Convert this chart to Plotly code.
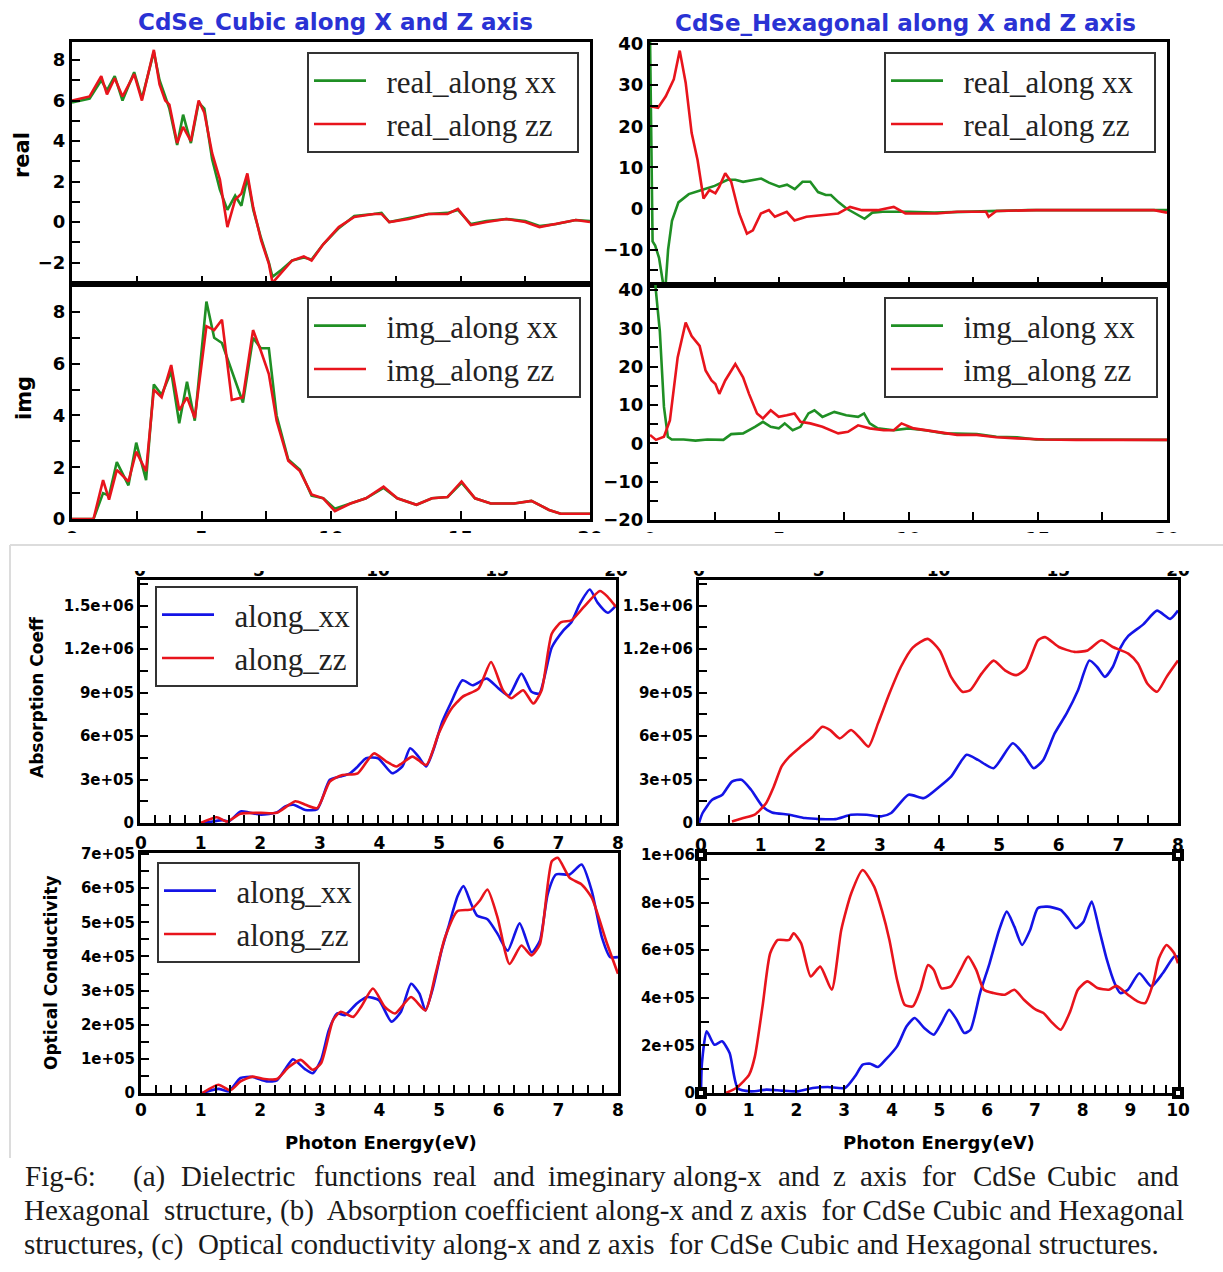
import plotly.graph_objects as go

W, H = 1223, 1272
def px(x):
    return x / W
def py(y):
    return 1 - y / H

# ---------------- DATA ----------------
# (a) Cubic, real part (E in eV)
cub_real_E = [0, 0.68, 1.13, 1.35, 1.65, 1.95, 2.4, 2.7, 3.16, 3.38, 3.6, 3.76, 4.06, 4.29, 4.59, 4.89, 5.11, 5.41,
              5.71, 6.0, 6.3, 6.54, 6.77, 7.0, 7.3, 7.6, 7.74, 8.05, 8.5, 8.95, 9.25, 9.7, 10.3, 10.9, 11.65, 11.95,
              12.25, 13.0, 13.76, 14.5, 14.9, 15.4, 16.0, 16.77, 17.5, 18.05, 18.7, 19.45, 20]
cub_real_xx = [5.9, 6.1, 7.0, 6.5, 7.2, 6.0, 7.4, 6.1, 8.4, 7.0, 6.2, 5.6, 3.8, 5.3, 3.9, 5.9, 5.6, 3.1, 1.6, 0.6,
               1.3, 0.8, 2.2, 0.6, -0.8, -2.0, -2.7, -2.4, -1.9, -1.75, -1.85, -1.1, -0.3, 0.3, 0.4, 0.45, 0.0, 0.2,
               0.4, 0.45, 0.6, -0.1, 0.05, 0.15, 0.05, -0.2, -0.1, 0.1, 0.05]
cub_real_zz = [6.0, 6.2, 7.2, 6.3, 7.1, 6.2, 7.3, 6.0, 8.5, 6.8, 6.0, 5.8, 3.9, 4.7, 4.0, 6.0, 5.4, 3.4, 2.1, -0.25,
               1.1, 1.4, 2.4, 0.7, -0.9, -2.05, -3.0, -2.55, -1.9, -1.7, -1.9, -1.1, -0.25, 0.25, 0.4, 0.4, 0.0,
               0.15, 0.4, 0.4, 0.65, -0.15, 0.0, 0.15, 0.0, -0.25, -0.1, 0.1, 0.0]

# (a) Cubic, imaginary part
cub_img_E = [0, 0.83, 1.2, 1.43, 1.73, 2.18, 2.48, 2.86, 3.16, 3.46, 3.83, 4.14, 4.44, 4.74, 5.19, 5.49, 5.79, 6.17,
             6.6, 6.99, 7.29, 7.6, 7.9, 8.35, 8.8, 9.25, 9.7, 10.15, 10.75, 11.35, 12.03, 12.56, 13.3, 13.9, 14.5,
             15.04, 15.56, 16.17, 17.07, 17.74, 18.42, 18.87, 20]
cub_img_xx = [0, 0, 1.0, 0.9, 2.2, 1.3, 2.95, 1.5, 5.2, 4.8, 5.7, 3.7, 5.3, 3.8, 8.4, 7.0, 6.8, 5.7, 4.5, 7.0, 6.6,
              6.6, 4.0, 2.3, 1.9, 0.9, 0.8, 0.4, 0.6, 0.8, 1.2, 0.8, 0.55, 0.8, 0.85, 1.4, 0.8, 0.6, 0.6, 0.7, 0.35,
              0.2, 0.2]
cub_img_zz = [0, 0, 1.5, 0.75, 1.9, 1.45, 2.6, 1.85, 5.0, 4.7, 5.95, 4.2, 4.7, 3.9, 7.45, 7.3, 7.7, 4.6, 4.7, 7.3,
              6.5, 5.6, 3.8, 2.25, 1.85, 0.95, 0.8, 0.3, 0.6, 0.8, 1.25, 0.8, 0.55, 0.8, 0.85, 1.45, 0.8, 0.6, 0.6,
              0.7, 0.35, 0.2, 0.2]

# (a) Hexagonal, real part
hex_real_E_xx = [0, 0.05, 0.1, 0.2, 0.35, 0.5, 0.6, 0.7, 0.85, 1.1, 1.5, 2.0, 2.5, 3.0, 3.3, 3.6, 4.0, 4.3, 4.6, 5.0,
                 5.3, 5.6, 5.9, 6.2, 6.5, 6.8, 7.0, 7.3, 7.6, 8.0, 8.3, 8.6, 9.0, 9.4, 10.0, 11.0, 12.0, 13.0, 14.0,
                 14.6, 20]
hex_real_xx = [42, 10, -8, -9, -12, -18, -19, -10, -3, 1.5, 3.5, 4.5, 5.5, 7.0, 7.0, 6.5, 7.0, 7.3, 6.3, 5.3, 5.8,
               4.7, 6.5, 6.5, 4.0, 3.3, 3.3, 1.5, 0.0, -1.5, -2.5, -1.0, -0.8, -0.8, -0.8, -1.0, -0.8, -0.6, -0.4,
               -0.4, -0.4]
hex_real_E_zz = [0, 0.31, 0.61, 0.92, 1.15, 1.38, 1.61, 1.84, 2.07, 2.3, 2.53, 2.68, 2.91, 3.14, 3.45, 3.75, 3.98,
                 4.29, 4.6, 4.83, 5.29, 5.59, 6.05, 6.67, 7.28, 7.74, 8.2, 8.81, 9.43, 9.88, 10.34, 11.1, 11.88, 13.0,
                 13.1, 13.4, 14.94, 16.5, 18.0, 19.5, 20]
hex_real_zz = [24.9, 24.5, 27.3, 31.4, 38.4, 30.6, 18.4, 11.8, 2.45, 4.5, 3.7, 5.3, 8.6, 6.5, -1.2, -6.1, -5.3, -1.2,
               -0.4, -2.0, -0.8, -2.9, -2.0, -1.6, -1.2, 0.4, -0.4, -0.4, 0.4, -1.2, -1.2, -1.2, -0.8, -0.8, -2.0,
               -0.6, -0.4, -0.4, -0.4, -0.4, -1.0]

# (a) Hexagonal, imaginary part
hex_img_E_xx = [0, 0.23, 0.38, 0.54, 0.69, 0.84, 1.3, 1.76, 2.22, 2.84, 3.14, 3.6, 4.06, 4.37, 4.67, 4.98, 5.21,
                5.52, 5.82, 6.13, 6.36, 6.67, 7.13, 7.59, 8.05, 8.28, 8.5, 8.81, 9.43, 10.0, 10.65, 11.4, 12.64, 13.4,
                14.2, 14.94, 16.3, 20]
hex_img_xx = [60, 39.6, 29.3, 9.5, 1.7, 1.0, 1.0, 0.7, 1.0, 0.9, 2.4, 2.6, 4.3, 5.6, 4.3, 3.9, 5.2, 3.4, 4.3, 7.8,
              8.6, 6.9, 8.2, 7.3, 6.9, 7.8, 5.2, 3.9, 3.4, 3.9, 3.4, 2.6, 2.4, 1.7, 1.6, 1.0, 1.0, 0.9]
hex_img_E_zz = [0, 0.23, 0.54, 0.77, 1.07, 1.38, 1.61, 1.92, 2.15, 2.38, 2.53, 2.68, 2.91, 3.3, 3.6, 3.83, 4.14,
                4.37, 4.67, 4.98, 5.29, 5.59, 5.82, 6.2, 6.67, 7.28, 7.66, 8.05, 8.5, 9.04, 9.43, 9.73, 10.2, 10.65,
                11.1, 11.88, 12.64, 13.4, 14.2, 15.25, 16.5, 18, 20]
hex_img_zz = [2.2, 0.9, 1.7, 6.0, 22.4, 31.5, 28.0, 25.4, 19.0, 16.4, 15.5, 12.9, 16.4, 20.7, 17.2, 12.9, 7.8, 6.5,
              8.6, 6.9, 7.3, 7.8, 5.6, 5.2, 4.3, 2.6, 3.0, 4.7, 3.9, 3.4, 3.4, 5.2, 3.9, 3.4, 3.0, 2.2, 2.2, 1.6,
              1.3, 1.0, 0.9, 0.9, 0.9]

# (b) Absorption coefficient, Cubic
abs_cub_E_xx = [1.05, 1.22, 1.39, 1.49, 1.69, 1.83, 2.03, 2.3, 2.44, 2.58, 2.78, 2.98, 3.19, 3.36, 3.53, 3.66, 3.8,
                4.0, 4.24, 4.41, 4.54, 4.68, 4.81, 4.95, 5.08, 5.22, 5.42, 5.59, 5.83, 6.03, 6.2, 6.41, 6.58, 6.71,
                6.92, 7.12, 7.25, 7.39, 7.56, 7.69, 7.86, 8.0]
abs_cub_xx = [0, 0.1e5, 0.2e5, 0.1e5, 0.8e5, 0.73e5, 0.57e5, 0.73e5, 1.15e5, 1.26e5, 0.9e5, 0.96e5, 2.98e5, 3.2e5,
              3.43e5, 3.9e5, 4.47e5, 4.47e5, 3.43e5, 3.9e5, 5.15e5, 4.58e5, 3.9e5, 5.27e5, 6.98e5, 8.24e5, 9.85e5,
              9.5e5, 9.96e5, 9.27e5, 8.8e5, 10.3e5, 9.05e5, 8.93e5, 12.1e5, 13.3e5, 13.85e5, 15.1e5, 16.1e5,
              15.2e5, 14.5e5, 15.0e5]
abs_cub_E_zz = [1.02, 1.29, 1.46, 1.69, 2.03, 2.3, 2.61, 2.78, 2.98, 3.19, 3.39, 3.66, 3.93, 4.14, 4.31, 4.58, 4.81,
                5.02, 5.22, 5.42, 5.69, 5.9, 6.1, 6.24, 6.44, 6.61, 6.75, 6.92, 7.08, 7.25, 7.46, 7.73, 7.86, 8.0]
abs_cub_zz = [0, 0.4e5, 0.1e5, 0.64e5, 0.7e5, 0.7e5, 1.5e5, 1.26e5, 1.03e5, 2.86e5, 3.3e5, 3.43e5, 4.8e5, 4.24e5,
              3.9e5, 4.58e5, 4.0e5, 6.18e5, 7.8e5, 8.7e5, 9.27e5, 11.1e5, 9.16e5, 8.6e5, 9.16e5, 8.24e5, 9.16e5,
              13.05e5, 13.85e5, 13.97e5, 14.9e5, 16.0e5, 15.6e5, 14.9e5]

# (b) Absorption coefficient, Hexagonal
abs_hex_E_xx = [0, 0.06, 0.22, 0.39, 0.55, 0.71, 0.87, 1.06, 1.22, 1.51, 1.77, 2.02, 2.28, 2.54, 2.8, 3.05, 3.21,
                3.5, 3.76, 4.02, 4.21, 4.47, 4.66, 4.92, 5.24, 5.43, 5.59, 5.75, 5.94, 6.14, 6.33, 6.52, 6.65, 6.78,
                6.91, 7.04, 7.17, 7.42, 7.65, 7.87, 8.0]
abs_hex_xx = [0, 0.69e5, 1.6e5, 1.95e5, 2.86e5, 2.98e5, 2.29e5, 1.15e5, 0.73e5, 0.57e5, 0.34e5, 0.27e5, 0.27e5,
              0.57e5, 0.57e5, 0.46e5, 0.69e5, 1.95e5, 1.72e5, 2.52e5, 3.2e5, 4.7e5, 4.35e5, 3.78e5, 5.5e5, 4.7e5,
              3.78e5, 4.35e5, 6.18e5, 7.56e5, 9.16e5, 11.2e5, 10.76e5, 10.08e5, 10.76e5, 12.1e5, 12.9e5, 13.7e5,
              14.65e5, 14.08e5, 14.65e5]
abs_hex_E_zz = [0.55, 0.74, 0.93, 1.12, 1.25, 1.38, 1.51, 1.7, 1.9, 2.06, 2.19, 2.35, 2.54, 2.67, 2.83, 2.99, 3.18,
                3.37, 3.57, 3.82, 4.02, 4.21, 4.4, 4.53, 4.72, 4.92, 5.11, 5.3, 5.46, 5.66, 5.78, 6.01, 6.27, 6.49,
                6.72, 6.91, 7.17, 7.33, 7.49, 7.65, 7.81, 8.0]
abs_hex_zz = [0.1e5, 0.34e5, 0.57e5, 1.37e5, 2.52e5, 3.9e5, 4.58e5, 5.27e5, 5.95e5, 6.64e5, 6.41e5, 5.84e5, 6.41e5,
              5.95e5, 5.27e5, 6.87e5, 8.93e5, 10.76e5, 12.1e5, 12.7e5, 11.9e5, 10.08e5, 9.05e5, 9.16e5, 10.3e5,
              11.2e5, 10.53e5, 10.2e5, 10.65e5, 12.6e5, 12.82e5, 12.14e5, 11.8e5, 11.9e5, 12.6e5, 12.14e5, 11.68e5,
              11.0e5, 9.6e5, 9.05e5, 10.08e5, 11.2e5]

# (c) Optical conductivity, Cubic
opt_cub_E_xx = [1.03, 1.3, 1.47, 1.67, 1.87, 2.11, 2.28, 2.41, 2.55, 2.75, 2.88, 3.02, 3.15, 3.29, 3.42, 3.62, 3.79,
                3.99, 4.2, 4.36, 4.53, 4.67, 4.77, 4.9, 5.04, 5.17, 5.31, 5.41, 5.54, 5.64, 5.81, 5.98, 6.15, 6.35,
                6.55, 6.69, 6.82, 6.96, 7.19, 7.39, 7.56, 7.73, 7.87, 8.0]
opt_cub_xx = [0, 0.12e5, 0.05e5, 0.44e5, 0.47e5, 0.34e5, 0.37e5, 0.68e5, 0.99e5, 0.7e5, 0.58e5, 0.97e5, 1.84e5,
              2.33e5, 2.28e5, 2.62e5, 2.81e5, 2.72e5, 2.09e5, 2.38e5, 3.2e5, 2.91e5, 2.42e5, 3.1e5, 4.17e5, 4.95e5,
              5.77e5, 6.06e5, 5.53e5, 5.19e5, 5.09e5, 4.66e5, 4.17e5, 4.97e5, 4.12e5, 4.46e5, 5.82e5, 6.4e5, 6.4e5,
              6.69e5, 5.92e5, 4.56e5, 3.98e5, 3.98e5]
opt_cub_E_zz = [1.03, 1.3, 1.5, 1.67, 1.87, 2.07, 2.28, 2.48, 2.68, 2.88, 3.02, 3.22, 3.35, 3.56, 3.69, 3.89, 4.09,
                4.26, 4.53, 4.77, 4.94, 5.1, 5.31, 5.54, 5.68, 5.81, 5.98, 6.18, 6.38, 6.55, 6.69, 6.89, 6.99, 7.19,
                7.39, 7.56, 7.8, 8.0]
opt_cub_zz = [0, 0.24e5, 0.08e5, 0.34e5, 0.48e5, 0.41e5, 0.41e5, 0.76e5, 0.97e5, 0.68e5, 0.87e5, 2.13e5, 2.38e5,
              2.23e5, 2.52e5, 3.06e5, 2.52e5, 2.33e5, 2.81e5, 2.42e5, 3.49e5, 4.56e5, 5.33e5, 5.38e5, 5.63e5,
              5.96e5, 5.14e5, 3.78e5, 4.32e5, 4.03e5, 4.36e5, 6.79e5, 6.89e5, 6.3e5, 6.11e5, 5.72e5, 4.46e5, 3.49e5]

# (c) Optical conductivity, Hexagonal
opt_hex_E_xx = [0, 0.02, 0.12, 0.28, 0.44, 0.6, 0.77, 1.05, 1.37, 1.69, 2.02, 2.34, 2.66, 3.02, 3.23, 3.39, 3.55,
                3.71, 3.87, 4.11, 4.31, 4.48, 4.68, 4.88, 5.04, 5.2, 5.36, 5.52, 5.65, 5.85, 6.05, 6.25, 6.41, 6.57,
                6.73, 6.9, 7.06, 7.26, 7.54, 7.7, 7.86, 8.02, 8.19, 8.35, 8.51, 8.67, 8.79, 8.95, 9.19, 9.44, 9.68,
                9.92, 10]
opt_hex_xx = [0, 1.26e5, 2.59e5, 2.03e5, 2.17e5, 1.68e5, 0.2e5, 0.07e5, 0.14e5, 0.1e5, 0.07e5, 0.21e5, 0.25e5,
              0.21e5, 0.7e5, 1.19e5, 1.23e5, 1.09e5, 1.4e5, 1.96e5, 2.8e5, 3.15e5, 2.73e5, 2.45e5, 2.94e5, 3.5e5,
              3.08e5, 2.52e5, 2.66e5, 4.2e5, 5.45e5, 6.85e5, 7.62e5, 6.99e5, 6.22e5, 6.85e5, 7.76e5, 7.83e5,
              7.69e5, 7.34e5, 6.92e5, 7.2e5, 8.04e5, 6.85e5, 5.59e5, 4.62e5, 4.2e5, 4.34e5, 5.03e5, 4.48e5, 5.03e5,
              5.73e5, 5.73e5]
opt_hex_E_zz = [0.52, 0.73, 0.89, 1.01, 1.13, 1.29, 1.45, 1.61, 1.85, 1.94, 2.1, 2.3, 2.5, 2.74, 2.94, 3.15, 3.39,
                3.63, 3.79, 3.95, 4.11, 4.27, 4.44, 4.6, 4.76, 4.88, 5.04, 5.24, 5.44, 5.6, 5.77, 5.93, 6.13, 6.37,
                6.57, 6.77, 7.02, 7.18, 7.34, 7.54, 7.74, 7.9, 8.1, 8.31, 8.55, 8.71, 8.95, 9.15, 9.31, 9.48, 9.6,
                9.76, 9.92, 10]
opt_hex_zz = [0, 0.2e5, 0.49e5, 0.77e5, 1.54e5, 3.64e5, 5.87e5, 6.43e5, 6.43e5, 6.71e5, 6.29e5, 4.9e5, 5.31e5,
              4.34e5, 6.85e5, 8.39e5, 9.37e5, 8.67e5, 7.69e5, 6.43e5, 4.76e5, 3.71e5, 3.64e5, 4.34e5, 5.38e5,
              5.17e5, 4.4e5, 4.48e5, 5.17e5, 5.73e5, 5.17e5, 4.34e5, 4.2e5, 4.13e5, 4.34e5, 3.92e5, 3.5e5, 3.36e5,
              3.0e5, 2.66e5, 3.43e5, 4.34e5, 4.69e5, 4.41e5, 4.34e5, 4.5e5, 4.13e5, 3.85e5, 3.78e5, 4.62e5,
              5.66e5, 6.22e5, 5.87e5, 5.45e5]

# tick labels
abs_tickvals = [0, 3e5, 6e5, 9e5, 1.2e6, 1.5e6]
abs_ticktext = ['0', '3e+05', '6e+05', '9e+05', '1.2e+06', '1.5e+06']
optc_tickvals = [0, 1e5, 2e5, 3e5, 4e5, 5e5, 6e5, 7e5]
optc_ticktext = ['0', '1e+05', '2e+05', '3e+05', '4e+05', '5e+05', '6e+05', '7e+05']
opth_tickvals = [0, 2e5, 4e5, 6e5, 8e5, 1e6]
opth_ticktext = ['0', '2e+05', '4e+05', '6e+05', '8e+05', '1e+06']

titles = ['CdSe_Cubic along X and Z axis', 'CdSe_Hexagonal along X and Z axis']
caption_line1 = ['Fig-6:', '(a)', 'Dielectric', 'functions', 'real', 'and', 'imeginary', 'along-x', 'and', 'z',
                 'axis', 'for', 'CdSe', 'Cubic', 'and']
caption_line2 = 'Hexagonal\u00a0 structure, (b)\u00a0 Absorption coefficient along-x and z axis\u00a0 for CdSe Cubic and Hexagonal'
caption_line3 = 'structures, (c)\u00a0 Optical conductivity along-x and z axis\u00a0 for CdSe Cubic and Hexagonal structures.'

# ---------------- FIGURE ----------------
GREEN = '#1f8f24'
RED = '#e8141c'
BLUE = '#1414e6'
LW = 2.6

fig = go.Figure()

def add(xs, ys, n, color, name, legend=None, shape='linear'):
    fig.add_trace(go.Scatter(
        x=xs, y=ys, mode='lines', name=name,
        line=dict(color=color, width=LW, shape=shape, smoothing=0.6),
        xaxis='x' if n == 1 else 'x%d' % n, yaxis='y' if n == 1 else 'y%d' % n,
        legend=legend if legend else 'legend', showlegend=legend is not None,
        hoverinfo='x+y+name'))

PRE = '\u00a0\u00a0'
PAD = '\u00a0\u00a0'
add(cub_real_E, cub_real_xx, 1, GREEN, PRE + 'real_along xx' + PAD, 'legend')
add(cub_real_E, cub_real_zz, 1, RED, PRE + 'real_along zz' + PAD, 'legend')
add(cub_img_E, cub_img_xx, 2, GREEN, PRE + 'img_along xx' + PAD, 'legend2')
add(cub_img_E, cub_img_zz, 2, RED, PRE + 'img_along zz' + PAD, 'legend2')
add(hex_real_E_xx, hex_real_xx, 3, GREEN, PRE + 'real_along xx' + PAD, 'legend3')
add(hex_real_E_zz, hex_real_zz, 3, RED, PRE + 'real_along zz' + PAD, 'legend3')
add(hex_img_E_xx, hex_img_xx, 4, GREEN, PRE + 'img_along xx' + PAD, 'legend4')
add(hex_img_E_zz, hex_img_zz, 4, RED, PRE + 'img_along zz' + PAD, 'legend4')
add(abs_cub_E_xx, abs_cub_xx, 5, BLUE, PRE + 'along_xx', 'legend5', 'spline')
add(abs_cub_E_zz, abs_cub_zz, 5, RED, PRE + 'along_zz', 'legend5', 'spline')
add(abs_hex_E_xx, abs_hex_xx, 6, BLUE, 'along_xx', None, 'spline')
add(abs_hex_E_zz, abs_hex_zz, 6, RED, 'along_zz', None, 'spline')
add(opt_cub_E_xx, opt_cub_xx, 7, BLUE, PRE + 'along_xx', 'legend6', 'spline')
add(opt_cub_E_zz, opt_cub_zz, 7, RED, PRE + 'along_zz', 'legend6', 'spline')
add(opt_hex_E_xx, opt_hex_xx, 8, BLUE, 'along_xx', None, 'spline')
add(opt_hex_E_zz, opt_hex_zz, 8, RED, 'along_zz', None, 'spline')

# empty carriers so that the secondary (top) energy axes are drawn
for xa, ya in (('x9', 'y5'), ('x10', 'y6'), ('x11', 'y7'), ('x12', 'y8')):
    fig.add_trace(go.Scatter(x=[], y=[], mode='lines', xaxis=xa, yaxis=ya, showlegend=False, hoverinfo='skip'))

FONT_BIG = dict(family='DejaVu Sans', size=18, color='black', weight='bold')
FONT_SM = dict(family='DejaVu Sans', size=15, color='black', weight='bold')

def minor(d):
    return dict(dtick=d, tick0=0, ticks='inside', ticklen=8, tickwidth=2, tickcolor='black', showgrid=False)

def base_axis(domain, rng, anchor, font):
    return dict(domain=domain, range=rng, anchor=anchor, showline=True, linewidth=3, linecolor='black',
                mirror=True, ticks='inside', ticklen=8, tickwidth=2, tickcolor='black', showgrid=False,
                zeroline=False, tickfont=font, fixedrange=True, automargin=False)

layout_axes = {}
# panel boxes (pixel)
boxes = {
    1: (72, 590, 42, 284), 2: (72, 590, 284, 519),
    3: (650, 1167, 42, 285), 4: (650, 1167, 285, 520),
    5: (140, 616, 580, 823), 6: (699, 1178, 580, 823),
    7: (141, 618, 853, 1093), 8: (701, 1178, 855, 1093),
}
def xdom(n):
    b = boxes[n]
    return [px(b[0]), px(b[1])]
def ydom(n):
    b = boxes[n]
    return [py(b[3]), py(b[2])]

def key(prefix, n):
    return prefix + 'axis' + ('' if n == 1 else str(n))

# x axes
for n in (1, 2, 3, 4):
    a = base_axis(xdom(n), [0, 20], 'y' if n == 1 else 'y%d' % n, FONT_BIG)
    a.update(tickmode='linear', tick0=0, dtick=5, minor=minor(2.5), showticklabels=n in (2, 4))
    layout_axes[key('x', n)] = a
for n, rng, md in ((5, [0, 8], 0.25), (6, [0, 8], 0.5), (7, [0, 8], 0.25), (8, [0, 10], 0.25)):
    a = base_axis(xdom(n), rng, 'y%d' % n, FONT_SM)
    a.update(tickmode='linear', tick0=0, dtick=1, minor=minor(md), showticklabels=n in (7, 8))
    if n in (7, 8):
        a['tickfont'] = dict(family='DejaVu Sans', size=17, color='black', weight='bold')
    layout_axes[key('x', n)] = a

# top (secondary) x axes of lower panels
for n, base, rng, dt in ((9, 5, [0, 20], 5), (10, 6, [0, 20], 5), (11, 7, [0, 8], 1), (12, 8, [0, 8], 1)):
    layout_axes[key('x', n)] = dict(overlaying='x%d' % base, anchor='y%d' % base, side='top', range=rng,
                                    tickmode='linear', tick0=0, dtick=dt, ticks='', showline=False,
                                    showgrid=False, zeroline=False, fixedrange=True, automargin=False,
                                    tickfont=dict(family='DejaVu Sans', size=17, color='black', weight='bold'))

# y axes
ycfg = {
    1: dict(range=[-3.06, 8.89], tickmode='linear', tick0=0, dtick=2, minor=minor(1)),
    2: dict(range=[0, 9.08], tickmode='linear', tick0=0, dtick=2, minor=minor(1)),
    3: dict(range=[-18.6, 40.5], tickmode='linear', tick0=0, dtick=10, minor=minor(5)),
    4: dict(range=[-20, 41.3], tickmode='linear', tick0=0, dtick=10, minor=minor(5)),
    5: dict(range=[0, 1.676e6], tickmode='array', tickvals=abs_tickvals, ticktext=abs_ticktext, minor=minor(1.5e5)),
    6: dict(range=[0, 1.676e6], tickmode='array', tickvals=abs_tickvals, ticktext=abs_ticktext, minor=minor(1.5e5)),
    7: dict(range=[0, 7.03e5], tickmode='array', tickvals=optc_tickvals, ticktext=optc_ticktext, minor=minor(0.5e5)),
    8: dict(range=[0, 1.0e6], tickmode='array', tickvals=opth_tickvals, ticktext=opth_ticktext, minor=minor(1e5)),
}
for n in range(1, 9):
    a = base_axis(ydom(n), None, 'x' if n == 1 else 'x%d' % n, FONT_BIG if n <= 4 else FONT_SM)
    a.update(ycfg[n])
    layout_axes[key('y', n)] = a

fig.update_layout(**layout_axes)

# legends
LEG_FONT = dict(family='Liberation Serif', size=31, color='#222222')
def leg(x, y):
    return dict(x=px(x), y=py(y), xanchor='left', yanchor='top', bgcolor='white', bordercolor='#333333',
                borderwidth=2, font=LEG_FONT, itemwidth=52, tracegroupgap=0)
fig.update_layout(
    legend=leg(307, 52), legend2=leg(307, 297), legend3=leg(884, 52), legend4=leg(884, 297),
    legend5=leg(155, 586), legend6=leg(157, 862),
)

ann = []
def A(**kw):
    d = dict(xref='paper', yref='paper', showarrow=False, xanchor='center', yanchor='middle')
    d.update(kw)
    ann.append(d)

TITLE_FONT = dict(family='DejaVu Sans', size=23, color='#2a32d4', weight='bold')
A(text=titles[0], x=px(336), y=py(22), font=TITLE_FONT)
A(text=titles[1], x=px(905), y=py(23), font=TITLE_FONT)
AX_FONT = dict(family='DejaVu Sans', size=21, color='black', weight='bold')
A(text='real', x=px(22), y=py(155), textangle=-90, font=AX_FONT)
A(text='img', x=px(24), y=py(398), textangle=-90, font=AX_FONT)
AX2_FONT = dict(family='DejaVu Sans', size=17, color='black', weight='bold')
A(text='Absorption Coeff', x=px(37), y=py(698), textangle=-90, font=AX2_FONT)
A(text='Optical Conductivity', x=px(51), y=py(972), textangle=-90, font=AX2_FONT)
XT_FONT = dict(family='DejaVu Sans', size=18, color='black', weight='bold')
A(text='Photon Energy(eV)', x=px(381), y=py(1142), font=XT_FONT)
A(text='Photon Energy(eV)', x=px(939), y=py(1142), font=XT_FONT)

CAP_FONT = dict(family='Liberation Serif', size=29, color='#1a1a1a')
cap1_x = [23, 131, 179, 312, 431, 491, 546, 671, 776, 831, 858, 920, 971, 1045, 1135]
for wtxt, wx in zip(caption_line1, cap1_x):
    A(text=wtxt, x=px(wx), y=py(1176), xanchor='left', font=CAP_FONT)
A(text=caption_line2, x=px(22), y=py(1210), xanchor='left', font=CAP_FONT)
A(text=caption_line3, x=px(22), y=py(1244), xanchor='left', font=CAP_FONT)

shapes = []
# white band hiding the clipped tick labels between the two image halves
shapes.append(dict(type='rect', xref='paper', yref='paper', x0=0, x1=1, y0=py(571), y1=py(533),
                   fillcolor='white', line=dict(width=0), layer='above'))
# faint border of the lower image block
shapes.append(dict(type='line', xref='paper', yref='paper', x0=px(10), x1=1, y0=py(545), y1=py(545),
                   line=dict(color='#dcdcdc', width=2), layer='above'))
shapes.append(dict(type='line', xref='paper', yref='paper', x0=px(10), x1=px(10), y0=py(545), y1=py(1158),
                   line=dict(color='#dcdcdc', width=2), layer='above'))
# selection-handle squares on the last panel
b = boxes[8]
for cx in (b[0], b[1]):
    for cy in (b[2], b[3]):
        shapes.append(dict(type='rect', xref='paper', yref='paper', x0=px(cx - 6), x1=px(cx + 6),
                           y0=py(cy + 6), y1=py(cy - 6), fillcolor='black', line=dict(width=0), layer='above'))
        shapes.append(dict(type='rect', xref='paper', yref='paper', x0=px(cx - 2), x1=px(cx + 2),
                           y0=py(cy + 2), y1=py(cy - 2), fillcolor='white', line=dict(width=0), layer='above'))

fig.update_layout(
    width=W, height=H, margin=dict(l=0, r=0, t=0, b=0, autoexpand=False),
    paper_bgcolor='white', plot_bgcolor='white',
    annotations=ann, shapes=shapes,
    font=dict(family='DejaVu Sans', color='black'),
)

fig.write_html('out.html', config={'displayModeBar': False},
               post_script="document.body.style.margin='0';document.body.style.overflow='hidden';")
